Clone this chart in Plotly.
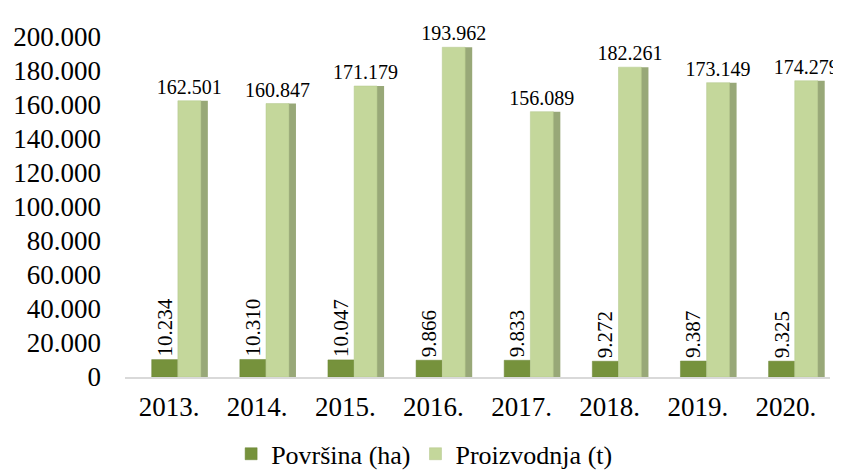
import plotly.graph_objects as go

years = ["2013.", "2014.", "2015.", "2016.", "2017.", "2018.", "2019.", "2020."]
povrsina = [10234, 10310, 10047, 9866, 9833, 9272, 9387, 9325]
proizvodnja = [162501, 160847, 171179, 193962, 156089, 182261, 173149, 174279]
tick_vals = [0, 20000, 40000, 60000, 80000, 100000, 120000, 140000, 160000, 180000, 200000]

font = "Liberation Serif"

fig = go.Figure()
# Površina: front face
fig.add_trace(go.Bar(
    x=years, y=povrsina, name="Površina (ha)",
    offset=-0.197, width=0.295,
    marker=dict(color="#76923C", line=dict(color="#6A8535", width=0.5)),
    texttemplate="%{y:,d}", textposition="outside", textangle=-90,
    constraintext="none",
    textfont=dict(family=font, size=21, color="black"), cliponaxis=False,
    hoverinfo="x+y",
))
# Proizvodnja: side face (depth shading)
fig.add_trace(go.Bar(
    x=years, y=proizvodnja, name="Proizvodnja (t)",
    offset=0.355, width=0.085, showlegend=False,
    marker=dict(color="#98A878", line=dict(width=0)),
    hoverinfo="skip",
))
# Proizvodnja: front face
fig.add_trace(go.Bar(
    x=years, y=proizvodnja, name="Proizvodnja (t)",
    offset=0.10, width=0.26,
    marker=dict(color="#C4D79B", line=dict(color="#B3C68A", width=0.5)),
    texttemplate="%{y:,d}", textposition="outside", textangle=0,
    constraintext="none",
    textfont=dict(family=font, size=20, color="black"), cliponaxis=False,
    hoverinfo="x+y",
))

fig.update_layout(
    width=833, height=464,
    separators=",.",
    barmode="overlay",
    paper_bgcolor="white", plot_bgcolor="white",
    margin=dict(l=117, r=11, t=29, b=95, autoexpand=False),
    font=dict(family=font, size=26, color="black"),
    xaxis=dict(showgrid=False, showline=True, linecolor="#D9D9D9", linewidth=2,
               tickfont=dict(family=font, size=27, color="black"), ticks="",
               ticklabelstandoff=5),
    yaxis=dict(range=[0, 200000], tickvals=tick_vals, tickformat=",d",
               showgrid=False, zeroline=False, showline=False,
               tickfont=dict(family=font, size=27, color="black"), ticklabelstandoff=23),
    legend=dict(orientation="h", x=0.425, xanchor="center", y=-0.226, yanchor="middle",
                font=dict(family=font, size=26, color="black"), itemwidth=30,
                bgcolor="rgba(0,0,0,0)", traceorder="normal"),
)
fig.write_html("out.html")
